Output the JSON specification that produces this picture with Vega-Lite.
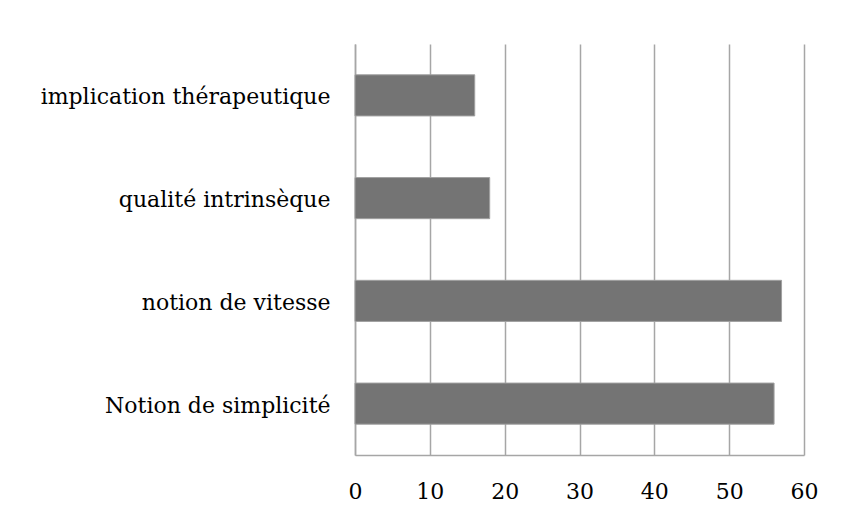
{
  "$schema": "https://vega.github.io/schema/vega-lite/v6.json",
  "autosize": {"type": "none"},
  "padding": {"left": 355, "top": 44, "right": 38, "bottom": 64},
  "width": 449,
  "height": 411,
  "background": "white",
  "config": {
    "view": {"stroke": null},
    "font": "DejaVu Serif"
  },
  "data": {
    "values": [
      {"categorie": "implication thérapeutique", "valeur": 16},
      {"categorie": "qualité intrinsèque", "valeur": 18},
      {"categorie": "notion de vitesse", "valeur": 57},
      {"categorie": "Notion de simplicité", "valeur": 56}
    ]
  },
  "mark": {"type": "bar", "fill": "#747474", "stroke": "#a0a0a0", "strokeWidth": 1},
  "encoding": {
    "y": {
      "field": "categorie",
      "type": "nominal",
      "sort": null,
      "scale": {"paddingInner": 0.6, "paddingOuter": 0.3},
      "axis": {
        "title": null,
        "ticks": false,
        "domain": true,
        "domainColor": "#a6a6a6",
        "domainWidth": 1.5,
        "labelFont": "DejaVu Serif",
        "labelFontSize": 22,
        "labelColor": "#000000",
        "labelPadding": 25,
        "labelLimit": 400,
        "labelOffset": 2
      }
    },
    "x": {
      "field": "valeur",
      "type": "quantitative",
      "scale": {"domain": [0, 60], "nice": false},
      "axis": {
        "title": null,
        "values": [0, 10, 20, 30, 40, 50, 60],
        "ticks": false,
        "grid": true,
        "gridColor": "#a6a6a6",
        "gridWidth": 1.5,
        "domain": true,
        "domainColor": "#a6a6a6",
        "domainWidth": 1.5,
        "labelFont": "DejaVu Serif",
        "labelFontSize": 22,
        "labelColor": "#000000",
        "labelPadding": 26,
        "labelFlush": false
      }
    }
  }
}
